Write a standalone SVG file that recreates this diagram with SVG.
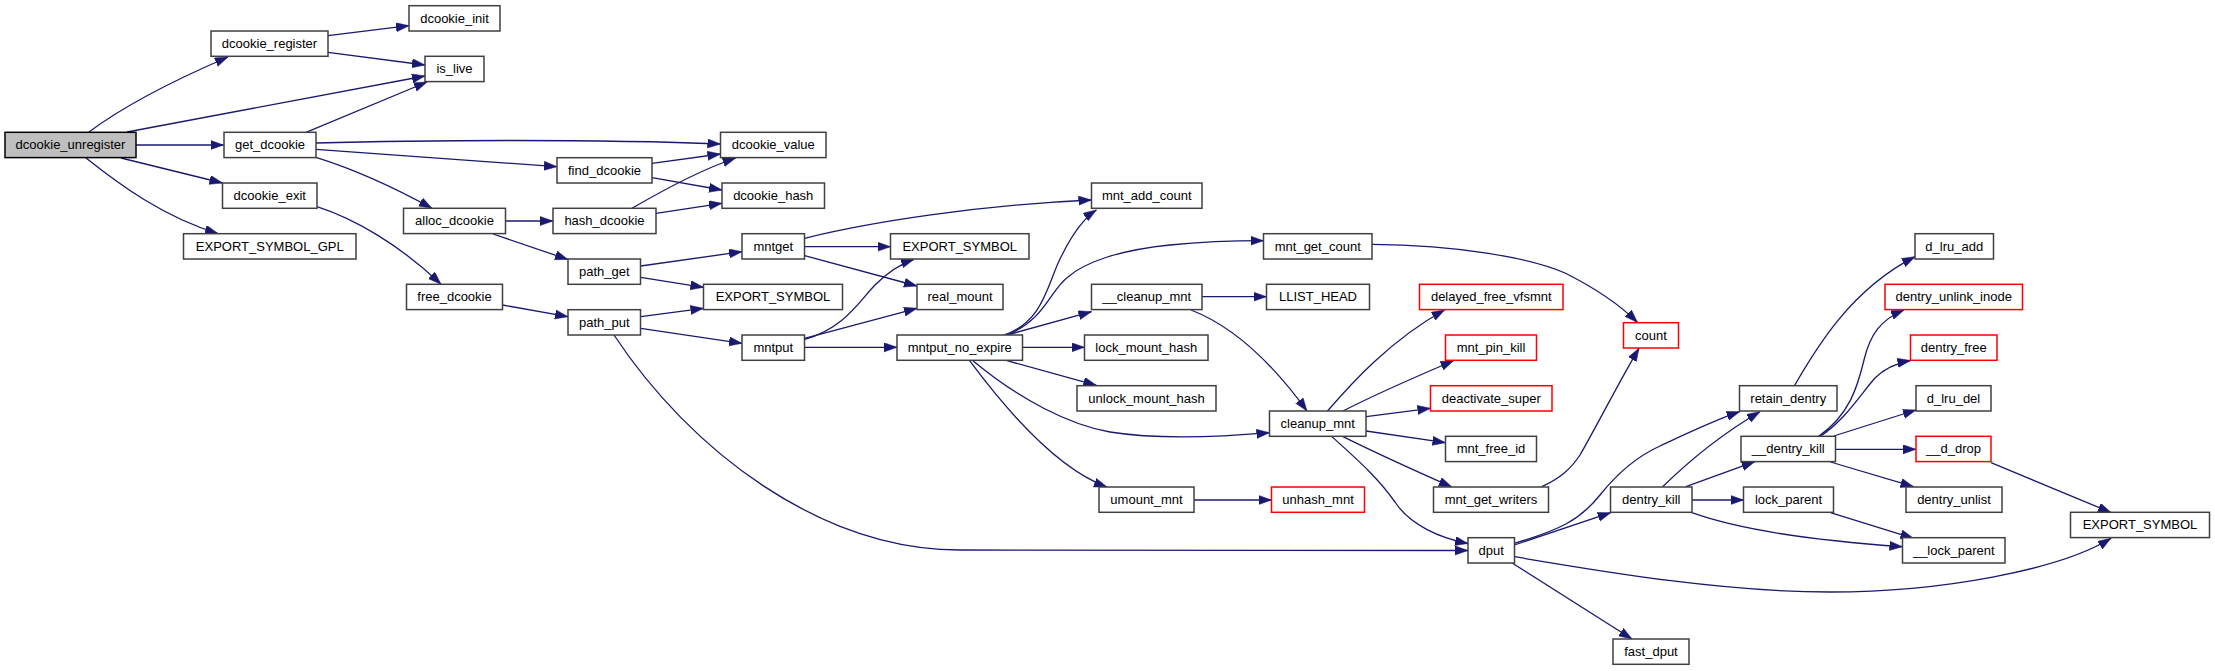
<svg xmlns="http://www.w3.org/2000/svg" width="2215" height="671" viewBox="0 0 2215 671">
<style>
.n rect{fill:#ffffff;stroke:#404040;stroke-width:1.5}
.n.root rect{fill:#bfbfbf;stroke:#000000}
.n.red rect{stroke:#ff0000}
.n text{font-family:"Liberation Sans",Arial,Helvetica,sans-serif;font-size:13px;text-anchor:middle;fill:#000000}
.e path{fill:none;stroke:#191970;stroke-width:1.3;marker-end:url(#ah)}
</style>
<defs>
<marker id="ah" markerUnits="userSpaceOnUse" markerWidth="14" markerHeight="10" refX="13" refY="4.6" orient="auto">
<path d="M0,0 L13,4.6 L0,9.2 z" fill="#191970" stroke="#191970" stroke-width="0.5"/>
</marker>
</defs>
<rect width="2215" height="671" fill="#ffffff"/>
<g id="connectors" class="e">
<path d="M89,132 C125,105 170,82 228,57"/>
<path d="M127,132 L425,76"/>
<path d="M136,145 L223.5,145"/>
<path d="M121,158 L222.5,183"/>
<path d="M86,158 C120,185 165,218 218,233.5"/>
<path d="M328,35.7 L409,25.7"/>
<path d="M328,52.3 L425,65"/>
<path d="M306,132.3 L427,82"/>
<path d="M316,143 C420,140 600,139 720.5,144"/>
<path d="M316,149.3 L557,166.7"/>
<path d="M316,157.3 C350,168 390,185 432,208.3"/>
<path d="M317,206.7 C355,219 400,245 441,284.3"/>
<path d="M505.5,221 L553,221"/>
<path d="M493,234 L568,259.5"/>
<path d="M502.5,305 L568,316.7"/>
<path d="M652,163.3 L720.5,154"/>
<path d="M652,177.7 L722,190"/>
<path d="M632,208.3 C660,192 700,170 735.7,158"/>
<path d="M656,213.3 L722,203.3"/>
<path d="M640.7,266 L742,251.7"/>
<path d="M640.7,277.3 L703.5,287.3"/>
<path d="M640.7,316.7 L703.5,308.3"/>
<path d="M640.7,328.3 L742,343.3"/>
<path d="M614,335 C690,450 820,550 960,550 L1468,550.5"/>
<path d="M804.6,238.3 C870,222 980,205 1091.5,200"/>
<path d="M804.6,246.7 L890.5,246.7"/>
<path d="M804.6,255.7 L917,286"/>
<path d="M804.6,339.3 C845,328 860,300 875,285 C888,272 900,264 914,259.3"/>
<path d="M804.6,338.3 L917,308.3"/>
<path d="M804.6,347.3 L897,347.3"/>
<path d="M1003.6,335 C1045,322 1048,280 1062,255 C1072,235 1084,218 1096.4,210"/>
<path d="M1007,335 C1045,320 1050,290 1068,277 C1085,262 1120,250 1170,245 C1200,242 1230,240.7 1263.5,240.7"/>
<path d="M1007,335 L1091.5,311.7"/>
<path d="M1022.5,347.3 L1084.5,347.3"/>
<path d="M1007,360.7 L1096.4,385.3"/>
<path d="M973,360.7 C1020,400 1070,425 1110,432 C1160,440 1220,437 1269.5,432.7"/>
<path d="M969.6,360.7 C1010,415 1060,470 1107,487"/>
<path d="M1194,500 L1271.5,500"/>
<path d="M1202,296.7 L1266.5,296.7"/>
<path d="M1191,310 C1230,325 1270,360 1307,411"/>
<path d="M1371.8,244.3 C1460,245 1530,258 1565,273 C1595,288 1620,305 1637.5,322.5"/>
<path d="M1327.5,411 C1350,385 1390,340 1444.6,310"/>
<path d="M1343,411 C1380,392 1420,375 1453.6,360.7"/>
<path d="M1366,416.7 L1430.5,408.3"/>
<path d="M1366,431 L1445.5,442.7"/>
<path d="M1343,436.7 C1380,455 1420,473 1451.8,487"/>
<path d="M1332,436.7 C1360,462 1378,478 1395,502 C1410,525 1440,538 1468,543.5"/>
<path d="M1541.8,486.7 C1560,478 1570,470 1580,455 C1600,420 1620,380 1639,348.3"/>
<path d="M1514.3,543.3 C1560,530 1580,520 1600,495 C1620,470 1640,455 1660,446 C1690,432 1715,420 1739.7,411.7"/>
<path d="M1514.3,545 L1610.7,512.7"/>
<path d="M1514.3,556.7 C1600,571 1720,592 1830,592 C1940,592 2060,570 2111,538.3"/>
<path d="M1512.5,563.3 L1632,639"/>
<path d="M1662.6,486.7 C1690,460 1725,432 1760,411.7"/>
<path d="M1686,486.7 L1754.7,461.7"/>
<path d="M1691.9,500 L1743.5,500"/>
<path d="M1691.9,512.7 C1740,530 1820,541 1902.5,546.7"/>
<path d="M1830.5,512.7 L1913.5,538.3"/>
<path d="M1794.4,385.7 C1815,350 1850,290 1915,256.7"/>
<path d="M1818,436.7 C1850,415 1858,385 1864,360 C1870,335 1880,320 1904,310"/>
<path d="M1819.7,436.7 C1845,420 1860,395 1875,378 C1885,368 1897,363 1910.5,360.5"/>
<path d="M1833.8,436 L1916,410"/>
<path d="M1835.6,449.3 L1916,449.3"/>
<path d="M1830.5,462 L1913.5,486.7"/>
<path d="M1991,462.7 L2111,512.5"/>
</g>
<g id="dcookie_unregister" class="n root"><rect x="5" y="132.3" width="131" height="25.3"/><text x="70.5" y="149.1">dcookie_unregister</text></g>
<g id="dcookie_register" class="n"><rect x="211" y="31" width="117" height="25.3"/><text x="269.5" y="47.8">dcookie_register</text></g>
<g id="dcookie_init" class="n"><rect x="409" y="5.7" width="91" height="25.3"/><text x="454.5" y="22.5">dcookie_init</text></g>
<g id="is_live" class="n"><rect x="425" y="56.3" width="59" height="25.3"/><text x="454.5" y="73.1">is_live</text></g>
<g id="get_dcookie" class="n"><rect x="224" y="132.3" width="92" height="25.3"/><text x="270" y="149.1">get_dcookie</text></g>
<g id="dcookie_exit" class="n"><rect x="222.5" y="183" width="94.5" height="25.3"/><text x="269.75" y="199.8">dcookie_exit</text></g>
<g id="EXPORT_SYMBOL_GPL" class="n"><rect x="183.5" y="233.7" width="172.5" height="25.3"/><text x="269.75" y="250.5">EXPORT_SYMBOL_GPL</text></g>
<g id="alloc_dcookie" class="n"><rect x="403.5" y="208.3" width="102" height="25.3"/><text x="454.5" y="225.1">alloc_dcookie</text></g>
<g id="free_dcookie" class="n"><rect x="406.5" y="284.3" width="96" height="25.3"/><text x="454.5" y="301.1">free_dcookie</text></g>
<g id="dcookie_value" class="n"><rect x="720.5" y="132.3" width="105.5" height="25.3"/><text x="773.25" y="149.1">dcookie_value</text></g>
<g id="find_dcookie" class="n"><rect x="557" y="157.7" width="95" height="25.3"/><text x="604.5" y="174.5">find_dcookie</text></g>
<g id="dcookie_hash" class="n"><rect x="722" y="183" width="102.5" height="25.3"/><text x="773.25" y="199.8">dcookie_hash</text></g>
<g id="hash_dcookie" class="n"><rect x="553" y="208.3" width="103" height="25.3"/><text x="604.5" y="225.1">hash_dcookie</text></g>
<g id="path_get" class="n"><rect x="568" y="259" width="72.5" height="25.3"/><text x="604.25" y="275.8">path_get</text></g>
<g id="path_put" class="n"><rect x="568" y="309.7" width="72.5" height="25.3"/><text x="604.25" y="326.5">path_put</text></g>
<g id="mntget" class="n"><rect x="742" y="233.7" width="62.5" height="25.3"/><text x="773.25" y="250.5">mntget</text></g>
<g id="mntput" class="n"><rect x="742" y="335" width="62.5" height="25.3"/><text x="773.25" y="351.8">mntput</text></g>
<g id="EXPORT_SYMBOL_b" class="n"><rect x="703.5" y="284.3" width="139" height="25.3"/><text x="773" y="301.1">EXPORT_SYMBOL</text></g>
<g id="EXPORT_SYMBOL_a" class="n"><rect x="890.5" y="233.7" width="138.5" height="25.3"/><text x="959.75" y="250.5">EXPORT_SYMBOL</text></g>
<g id="real_mount" class="n"><rect x="917" y="284.3" width="86" height="25.3"/><text x="960" y="301.1">real_mount</text></g>
<g id="mntput_no_expire" class="n"><rect x="897" y="335" width="125.5" height="25.3"/><text x="959.75" y="351.8">mntput_no_expire</text></g>
<g id="mnt_add_count" class="n"><rect x="1091.5" y="183" width="110.5" height="25.3"/><text x="1146.75" y="199.8">mnt_add_count</text></g>
<g id="__cleanup_mnt" class="n"><rect x="1091.5" y="284.3" width="110.5" height="25.3"/><text x="1146.75" y="301.1">__cleanup_mnt</text></g>
<g id="lock_mount_hash" class="n"><rect x="1084.5" y="335" width="123.5" height="25.3"/><text x="1146.25" y="351.8">lock_mount_hash</text></g>
<g id="unlock_mount_hash" class="n"><rect x="1077" y="385.7" width="139" height="25.3"/><text x="1146.5" y="402.5">unlock_mount_hash</text></g>
<g id="umount_mnt" class="n"><rect x="1099" y="487" width="95" height="25.3"/><text x="1146.5" y="503.8">umount_mnt</text></g>
<g id="mnt_get_count" class="n"><rect x="1263.5" y="233.7" width="108.5" height="25.3"/><text x="1317.75" y="250.5">mnt_get_count</text></g>
<g id="LLIST_HEAD" class="n"><rect x="1266.5" y="284.3" width="103" height="25.3"/><text x="1318" y="301.1">LLIST_HEAD</text></g>
<g id="cleanup_mnt" class="n"><rect x="1269.5" y="411" width="96.5" height="25.3"/><text x="1317.75" y="427.8">cleanup_mnt</text></g>
<g id="unhash_mnt" class="n red"><rect x="1271.5" y="487" width="93" height="25.3"/><text x="1318" y="503.8">unhash_mnt</text></g>
<g id="delayed_free_vfsmnt" class="n red"><rect x="1419.5" y="284.3" width="143.5" height="25.3"/><text x="1491.25" y="301.1">delayed_free_vfsmnt</text></g>
<g id="mnt_pin_kill" class="n red"><rect x="1445.5" y="335" width="91" height="25.3"/><text x="1491" y="351.8">mnt_pin_kill</text></g>
<g id="deactivate_super" class="n red"><rect x="1430.5" y="385.7" width="121.5" height="25.3"/><text x="1491.25" y="402.5">deactivate_super</text></g>
<g id="mnt_free_id" class="n"><rect x="1445.5" y="436.3" width="91" height="25.3"/><text x="1491" y="453.1">mnt_free_id</text></g>
<g id="mnt_get_writers" class="n"><rect x="1433.5" y="487" width="115" height="25.3"/><text x="1491" y="503.8">mnt_get_writers</text></g>
<g id="dput" class="n"><rect x="1468" y="537.7" width="46.5" height="25.3"/><text x="1491.25" y="554.5">dput</text></g>
<g id="count" class="n red"><rect x="1623.5" y="322.7" width="55" height="25.3"/><text x="1651" y="339.5">count</text></g>
<g id="dentry_kill" class="n"><rect x="1610.5" y="487" width="81.5" height="25.3"/><text x="1651.25" y="503.8">dentry_kill</text></g>
<g id="fast_dput" class="n"><rect x="1613" y="639" width="76" height="25.3"/><text x="1651" y="655.8">fast_dput</text></g>
<g id="retain_dentry" class="n"><rect x="1739.5" y="385.7" width="97.5" height="25.3"/><text x="1788.25" y="402.5">retain_dentry</text></g>
<g id="__dentry_kill" class="n"><rect x="1741" y="436.3" width="94.5" height="25.3"/><text x="1788.25" y="453.1">__dentry_kill</text></g>
<g id="lock_parent" class="n"><rect x="1743.5" y="487" width="90" height="25.3"/><text x="1788.5" y="503.8">lock_parent</text></g>
<g id="d_lru_add" class="n"><rect x="1915" y="233.7" width="78.5" height="25.3"/><text x="1954.25" y="250.5">d_lru_add</text></g>
<g id="dentry_unlink_inode" class="n red"><rect x="1885" y="284.3" width="137.5" height="25.3"/><text x="1953.75" y="301.1">dentry_unlink_inode</text></g>
<g id="dentry_free" class="n red"><rect x="1910.5" y="335" width="86.5" height="25.3"/><text x="1953.75" y="351.8">dentry_free</text></g>
<g id="d_lru_del" class="n"><rect x="1916" y="385.7" width="75" height="25.3"/><text x="1953.5" y="402.5">d_lru_del</text></g>
<g id="__d_drop" class="n red"><rect x="1916" y="436.3" width="75" height="25.3"/><text x="1953.5" y="453.1">__d_drop</text></g>
<g id="dentry_unlist" class="n"><rect x="1906" y="487" width="96" height="25.3"/><text x="1954" y="503.8">dentry_unlist</text></g>
<g id="__lock_parent" class="n"><rect x="1902.5" y="537.7" width="102.5" height="25.3"/><text x="1953.75" y="554.5">__lock_parent</text></g>
<g id="EXPORT_SYMBOL_c" class="n"><rect x="2070.5" y="512.3" width="139" height="25.3"/><text x="2140" y="529.1">EXPORT_SYMBOL</text></g>
</svg>
